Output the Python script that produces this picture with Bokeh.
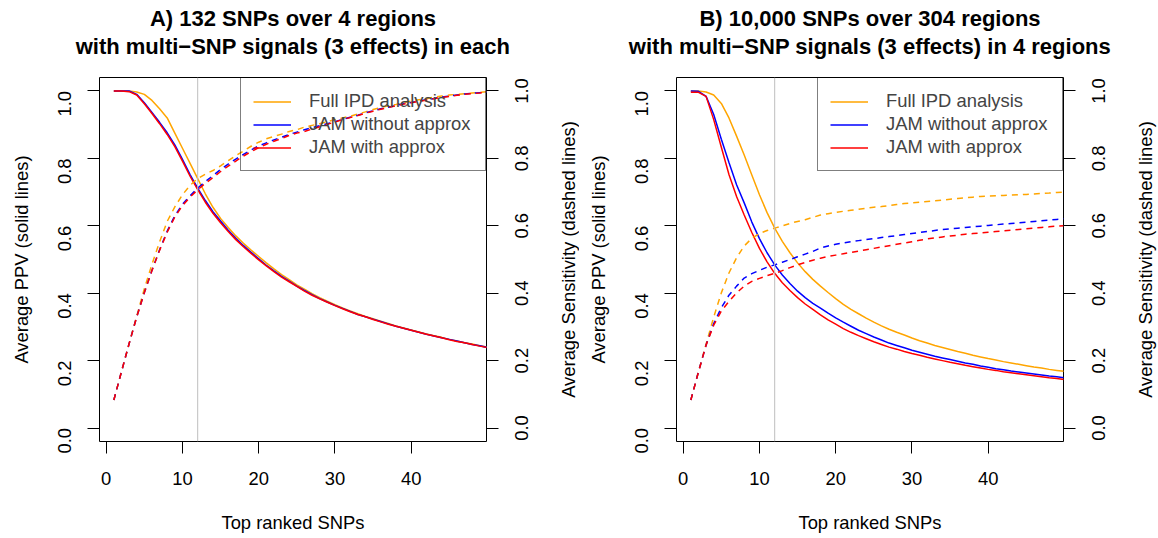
import math
from bokeh.plotting import figure
from bokeh.models import (Range1d, LinearAxis, FixedTicker, Span, Legend,
                          LegendItem, PrintfTickFormatter,
                          CustomJSTickFormatter)
from bokeh.core.properties import value
from bokeh.layouts import row, column
from bokeh.embed import file_html
from bokeh.resources import INLINE

# ---------------- data ----------------
snp_rank = list(range(1, 51))          # top ranked SNPs
xlim = (1, 48)
ylim = (0.0, 1.0)
y_ticks = [0.0, 0.2, 0.4, 0.6, 0.8, 1.0]
y_tick_labels = ["0.0", "0.2", "0.4", "0.6", "0.8", "1.0"]
x_ticks = [0, 10, 20, 30, 40]
cutoff = 12                             # grey vertical reference line

series_names = ["Full IPD analysis", "JAM without approx", "JAM with approx"]
series_colors = ["orange", "blue", "red"]

title_a = ["A) 132 SNPs over 4 regions",
           "with multi\u2212SNP signals (3 effects) in each"]
title_b = ["B) 10,000 SNPs over 304 regions",
           "with multi\u2212SNP signals (3 effects) in 4 regions"]
x_label = "Top ranked SNPs"
y_label_left = "Average PPV (solid lines)"
y_label_right = "Average Sensitivity (dashed lines)"

# Panel A
ppv_a_full = [1.000, 1.000, 1.000, 0.997, 0.990, 0.972, 0.947, 0.920, 0.875, 0.830,
              0.785, 0.740, 0.695, 0.655, 0.622, 0.595, 0.570, 0.548, 0.528, 0.509,
              0.490, 0.472, 0.455, 0.440, 0.425, 0.412, 0.399, 0.387, 0.376, 0.366,
              0.356, 0.347, 0.339, 0.331, 0.324, 0.317, 0.310, 0.303, 0.297, 0.291,
              0.285, 0.279, 0.274, 0.269, 0.263, 0.258, 0.253, 0.249, 0.244, 0.240]
sens_a_full = [0.083, 0.167, 0.250, 0.332, 0.413, 0.486, 0.552, 0.613, 0.656, 0.692,
               0.720, 0.740, 0.753, 0.764, 0.778, 0.793, 0.808, 0.822, 0.836, 0.848,
               0.858, 0.865, 0.872, 0.880, 0.885, 0.893, 0.898, 0.903, 0.909, 0.915,
               0.920, 0.925, 0.932, 0.938, 0.945, 0.951, 0.956, 0.960, 0.965, 0.970,
               0.974, 0.977, 0.982, 0.985, 0.988, 0.990, 0.992, 0.994, 0.996, 0.998]
ppv_a_jam = [1.000, 1.000, 1.000, 0.990, 0.965, 0.936, 0.907, 0.876, 0.840, 0.797,
             0.752, 0.712, 0.675, 0.642, 0.614, 0.587, 0.563, 0.541, 0.521, 0.502,
             0.483, 0.466, 0.450, 0.436, 0.421, 0.408, 0.396, 0.384, 0.374, 0.364,
             0.355, 0.346, 0.337, 0.330, 0.323, 0.316, 0.309, 0.302, 0.296, 0.290,
             0.284, 0.278, 0.273, 0.268, 0.263, 0.258, 0.253, 0.248, 0.244, 0.239]
sens_a_jam = [0.083, 0.167, 0.250, 0.330, 0.402, 0.468, 0.529, 0.584, 0.630, 0.664,
              0.689, 0.712, 0.731, 0.749, 0.767, 0.783, 0.798, 0.812, 0.825, 0.837,
              0.846, 0.855, 0.863, 0.871, 0.878, 0.885, 0.891, 0.897, 0.903, 0.909,
              0.916, 0.922, 0.928, 0.935, 0.941, 0.947, 0.952, 0.957, 0.962, 0.966,
              0.970, 0.974, 0.978, 0.982, 0.985, 0.988, 0.991, 0.993, 0.995, 0.997]
ppv_a_approx = [1.000, 1.000, 0.998, 0.988, 0.962, 0.933, 0.903, 0.871, 0.835, 0.792,
                0.747, 0.707, 0.670, 0.637, 0.609, 0.583, 0.559, 0.538, 0.518, 0.499,
                0.481, 0.464, 0.448, 0.434, 0.420, 0.406, 0.394, 0.383, 0.373, 0.363,
                0.354, 0.345, 0.337, 0.330, 0.322, 0.315, 0.308, 0.302, 0.296, 0.290,
                0.284, 0.278, 0.273, 0.268, 0.262, 0.257, 0.253, 0.248, 0.243, 0.239]
sens_a_approx = [0.083, 0.167, 0.250, 0.329, 0.401, 0.467, 0.527, 0.581, 0.626, 0.660,
                 0.685, 0.707, 0.726, 0.743, 0.761, 0.777, 0.792, 0.807, 0.820, 0.832,
                 0.842, 0.851, 0.859, 0.868, 0.875, 0.880, 0.887, 0.894, 0.901, 0.908,
                 0.915, 0.921, 0.927, 0.934, 0.940, 0.946, 0.951, 0.956, 0.961, 0.965,
                 0.969, 0.973, 0.977, 0.981, 0.984, 0.987, 0.990, 0.992, 0.994, 0.997]

# Panel B
ppv_b_full = [1.000, 1.000, 0.997, 0.988, 0.963, 0.920, 0.866, 0.810, 0.751, 0.692,
              0.639, 0.593, 0.554, 0.520, 0.490, 0.464, 0.441, 0.421, 0.402, 0.384,
              0.367, 0.352, 0.339, 0.326, 0.314, 0.303, 0.293, 0.284, 0.276, 0.267,
              0.259, 0.252, 0.245, 0.239, 0.233, 0.227, 0.222, 0.216, 0.211, 0.206,
              0.202, 0.197, 0.193, 0.189, 0.185, 0.181, 0.178, 0.174, 0.171, 0.168]
sens_b_full = [0.083, 0.167, 0.249, 0.329, 0.401, 0.460, 0.505, 0.540, 0.563, 0.577,
               0.586, 0.593, 0.600, 0.607, 0.613, 0.618, 0.625, 0.632, 0.636, 0.640,
               0.643, 0.646, 0.649, 0.652, 0.655, 0.657, 0.660, 0.663, 0.666, 0.668,
               0.670, 0.672, 0.674, 0.676, 0.679, 0.681, 0.683, 0.685, 0.687, 0.688,
               0.689, 0.690, 0.691, 0.692, 0.693, 0.694, 0.696, 0.697, 0.699, 0.700]
ppv_b_jam = [1.000, 0.999, 0.984, 0.930, 0.857, 0.788, 0.722, 0.668, 0.611, 0.562,
             0.520, 0.484, 0.454, 0.429, 0.406, 0.387, 0.370, 0.356, 0.341, 0.327,
             0.314, 0.302, 0.290, 0.280, 0.270, 0.261, 0.252, 0.245, 0.238, 0.231,
             0.225, 0.219, 0.213, 0.208, 0.203, 0.198, 0.193, 0.189, 0.184, 0.180,
             0.176, 0.173, 0.169, 0.166, 0.163, 0.160, 0.157, 0.154, 0.152, 0.149]
sens_b_jam = [0.083, 0.167, 0.246, 0.310, 0.357, 0.394, 0.421, 0.445, 0.458, 0.468,
              0.477, 0.484, 0.492, 0.500, 0.508, 0.516, 0.524, 0.534, 0.540, 0.545,
              0.549, 0.553, 0.556, 0.559, 0.562, 0.565, 0.568, 0.571, 0.574, 0.577,
              0.580, 0.583, 0.586, 0.589, 0.591, 0.593, 0.595, 0.597, 0.599, 0.601,
              0.603, 0.605, 0.607, 0.609, 0.611, 0.613, 0.615, 0.617, 0.619, 0.621]
ppv_b_approx = [0.996, 0.996, 0.984, 0.915, 0.833, 0.752, 0.687, 0.632, 0.580, 0.533,
                0.493, 0.459, 0.431, 0.408, 0.387, 0.368, 0.352, 0.336, 0.321, 0.308,
                0.295, 0.284, 0.274, 0.265, 0.256, 0.248, 0.240, 0.234, 0.227, 0.221,
                0.216, 0.210, 0.205, 0.200, 0.195, 0.191, 0.186, 0.182, 0.178, 0.174,
                0.171, 0.167, 0.164, 0.161, 0.158, 0.155, 0.152, 0.149, 0.147, 0.144]
sens_b_approx = [0.083, 0.166, 0.246, 0.305, 0.347, 0.376, 0.401, 0.421, 0.435, 0.444,
                 0.452, 0.459, 0.467, 0.476, 0.484, 0.491, 0.498, 0.504, 0.509, 0.513,
                 0.517, 0.521, 0.525, 0.529, 0.533, 0.537, 0.541, 0.545, 0.549, 0.553,
                 0.557, 0.561, 0.564, 0.567, 0.570, 0.572, 0.575, 0.577, 0.579, 0.581,
                 0.583, 0.585, 0.587, 0.589, 0.591, 0.593, 0.595, 0.597, 0.599, 0.600]

# ---------------- styling / layout ----------------
FONT = "Liberation Sans"
FS = "18.4px"
TFS = "22px"
FRAME_W, FRAME_H = 387, 364
HEAD = 70            # height of the title strip
TITLE_BASELINES = [18, 45.5]
TOP, BOTTOM = 7, 96
RIGHT_GAP = 20


def style_axis(ax, ticks, vertical=False, fmt=None):
    ax.ticker = FixedTicker(ticks=ticks)
    if fmt:
        ax.formatter = PrintfTickFormatter(format=fmt)
    ax.axis_line_color = None
    ax.major_tick_out = 12
    ax.major_tick_in = 0
    ax.minor_tick_out = 0
    ax.minor_tick_in = 0
    ax.major_tick_line_color = "black"
    ax.major_tick_line_width = 1
    ax.major_label_text_font = FONT
    ax.major_label_text_font_size = FS
    ax.major_label_text_color = "black"
    ax.axis_label_text_font = FONT
    ax.axis_label_text_font_size = FS
    ax.axis_label_text_font_style = "normal"
    ax.axis_label_text_color = "black"
    if vertical:
        ax.major_label_orientation = math.pi / 2


def blank(fig):
    fig.outline_line_color = None
    fig.background_fill_color = "white"
    fig.border_fill_color = "white"
    fig.grid.visible = False


def title_strip(lines, width, cx):
    t = figure(frame_width=width, frame_height=HEAD,
               min_border_left=0, min_border_right=0,
               min_border_top=0, min_border_bottom=0,
               x_range=Range1d(0, width), y_range=Range1d(HEAD, 0),
               x_axis_location=None, y_axis_location=None, title=None,
               output_backend="svg", toolbar_location=None)
    blank(t)
    t.text(x=[cx, cx], y=TITLE_BASELINES, text=lines, text_align="center",
           text_baseline="alphabetic", text_font=value(FONT),
           text_font_size=TFS, text_font_style="bold", text_color="black")
    return t


def make_panel(ppvs, senss, mbl, total_w):
    xpad = 0.04 * (xlim[1] - xlim[0])
    ypad = 0.04 * (ylim[1] - ylim[0])
    yr = Range1d(ylim[0] - ypad, ylim[1] + ypad)
    p = figure(frame_width=FRAME_W, frame_height=FRAME_H,
               min_border_left=mbl, min_border_right=RIGHT_GAP,
               min_border_top=TOP, min_border_bottom=BOTTOM,
               x_range=Range1d(xlim[0] - xpad, xlim[1] + xpad), y_range=yr,
               title=None, output_backend="svg", toolbar_location=None)
    p.background_fill_color = "white"
    p.border_fill_color = "white"
    p.outline_line_color = "black"
    p.outline_line_width = 1
    p.xgrid.visible = False
    p.ygrid.visible = False

    style_axis(p.xaxis[0], x_ticks)
    p.xaxis[0].axis_label = x_label
    p.xaxis[0].major_label_standoff = 18
    p.xaxis[0].axis_label_standoff = 24

    style_axis(p.yaxis[0], y_ticks, vertical=True, fmt="%.1f")
    p.yaxis[0].axis_label = y_label_left
    p.yaxis[0].major_label_standoff = 23
    p.yaxis[0].axis_label_standoff = 17

    # right axis: tick marks only (its texts are set in the side strip)
    rax = LinearAxis()
    style_axis(rax, y_ticks)
    rax.formatter = CustomJSTickFormatter(code="return ''")
    rax.major_label_standoff = 0
    rax.major_label_text_font_size = "1px"
    p.add_layout(rax, "right")

    p.add_layout(Span(location=cutoff, dimension="height",
                      line_color="#bebebe", line_width=1))

    solid = []
    for ppv, col in zip(ppvs, series_colors):
        solid.append(p.line(snp_rank, ppv, line_color=col, line_width=1.5))
    for sens, col in zip(senss, series_colors):
        p.line(snp_rank, sens, line_color=col, line_width=1.5, line_dash="6 5")

    legend = Legend(items=[LegendItem(label=n, renderers=[r])
                           for n, r in zip(series_names, solid)],
                    location="top_right", margin=0, padding=12, spacing=1,
                    glyph_width=38, glyph_height=21, label_height=21,
                    label_standoff=18, label_width=164,
                    label_text_font=FONT, label_text_font_size=FS,
                    border_line_color="black", border_line_width=1,
                    background_fill_alpha=0)
    p.add_layout(legend)

    # side strip: right tick labels and axis title, reading upward as in R
    strip_w = total_w - (mbl + FRAME_W + RIGHT_GAP)
    s = figure(frame_width=strip_w, frame_height=FRAME_H,
               min_border_left=0, min_border_right=0,
               min_border_top=TOP, min_border_bottom=BOTTOM,
               x_range=Range1d(0, strip_w), y_range=yr,
               x_axis_location=None, y_axis_location=None, title=None,
               output_backend="svg", toolbar_location=None)
    blank(s)
    s.text(x=[15] * len(y_ticks), y=y_ticks, text=y_tick_labels,
           angle=math.pi / 2, text_align="center", text_baseline="middle",
           text_font=value(FONT), text_font_size=FS, text_color="black")
    s.text(x=[62], y=[(ylim[0] + ylim[1]) / 2], text=[y_label_right],
           angle=math.pi / 2, text_align="center", text_baseline="middle",
           text_font=value(FONT), text_font_size=FS, text_color="black")
    return p, s


W_A, W_B = 579, 578
MBL_A, MBL_B = 99, 97
p1, s1 = make_panel([ppv_a_full, ppv_a_jam, ppv_a_approx],
                    [sens_a_full, sens_a_jam, sens_a_approx], MBL_A, W_A)
p2, s2 = make_panel([ppv_b_full, ppv_b_jam, ppv_b_approx],
                    [sens_b_full, sens_b_jam, sens_b_approx], MBL_B, W_B)
t1 = title_strip(title_a, W_A, MBL_A + FRAME_W / 2)
t2 = title_strip(title_b, W_B, MBL_B + FRAME_W / 2)

layout = column(row(t1, t2), row(p1, s1, p2, s2))
open("out.html", "w").write(file_html(layout, INLINE))
